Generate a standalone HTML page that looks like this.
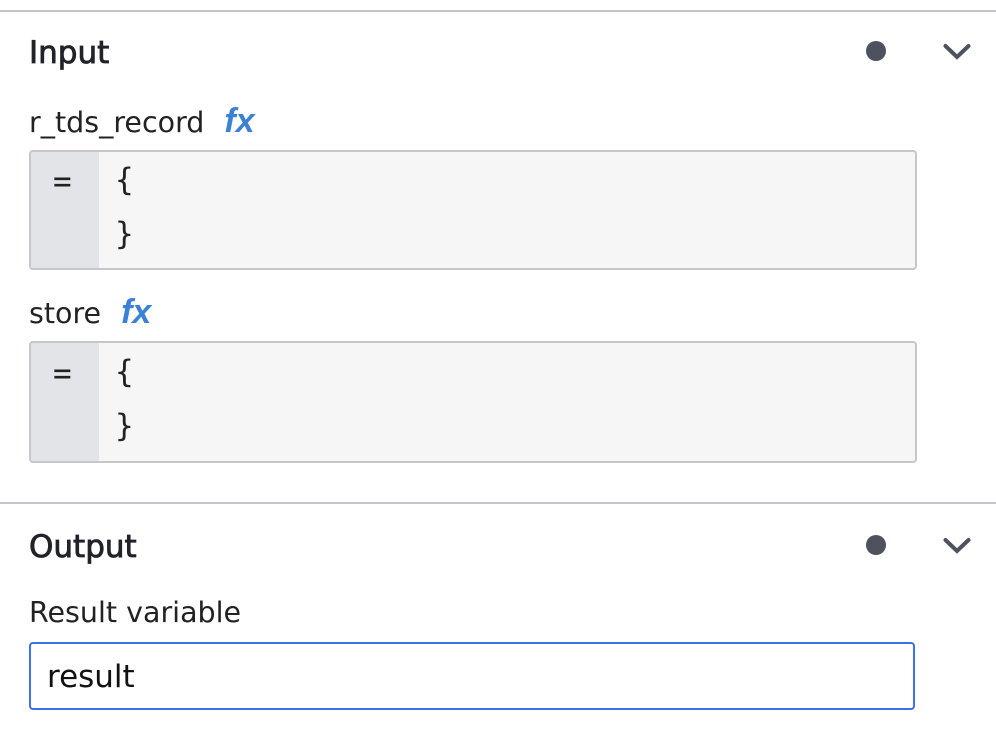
<!DOCTYPE html>
<html><head><style>
body{margin:0;width:996px;height:750px;background:#fff;position:relative;overflow:hidden;font-family:"DejaVu Sans","Liberation Sans",sans-serif;color:#21232a}
.a{position:absolute}
.hline{position:absolute;left:0;width:996px;height:2px;background:#c4c4cc}
.h{font-size:31px;font-weight:normal;left:29px;-webkit-text-stroke:0.8px #21232a}
.lbl{font-size:28.5px;left:29px;color:#222}
.fx{color:#3b82d6;font-weight:bold;font-style:italic;font-family:"Liberation Sans",sans-serif;font-size:34px;margin-left:20px}
.box{position:absolute;left:29px;width:884px;border:2px solid #c6c7cc;border-radius:4px;background:#f6f6f6;overflow:hidden}
.gut{position:absolute;left:0;top:0;bottom:0;width:68px;background:#e3e4e8}
.mono{position:absolute;font-family:"DejaVu Sans Mono","Liberation Mono",monospace;font-size:31px;color:#222}
.dot{position:absolute;left:866px;width:20px;height:20px;border-radius:50%;background:#4e525e}
.chev{position:absolute;left:943px;width:28px;height:18px}
</style></head><body>
<div class="hline" style="top:10px"></div>
<div class="a h" style="top:35px">Input</div>
<div class="dot" style="top:41px"></div>
<svg class="chev" style="top:43px" viewBox="0 0 28 18"><path d="M2.5 3 L14 14 L25.5 3" fill="none" stroke="#4e525e" stroke-width="4" stroke-linecap="round"/></svg>
<div class="a lbl" style="top:102px">r_tds_record<span class="fx">fx</span></div>
<div class="box" style="top:150px;height:116px"><div class="gut"></div>
<div class="mono" style="left:22px;top:12px">=</div>
<div class="mono" style="left:84px;top:10px">{</div>
<div class="mono" style="left:84px;top:64px">}</div></div>
<div class="a lbl" style="top:293px">store<span class="fx">fx</span></div>
<div class="box" style="top:341px;height:118px"><div class="gut"></div>
<div class="mono" style="left:22px;top:13px">=</div>
<div class="mono" style="left:84px;top:11px">{</div>
<div class="mono" style="left:84px;top:65px">}</div></div>
<div class="hline" style="top:502px"></div>
<div class="a h" style="top:529px">Output</div>
<div class="dot" style="top:535px"></div>
<svg class="chev" style="top:537px" viewBox="0 0 28 18"><path d="M2.5 3 L14 14 L25.5 3" fill="none" stroke="#4e525e" stroke-width="4" stroke-linecap="round"/></svg>
<div class="a lbl" style="top:596px">Result variable</div>
<div class="a" style="left:29px;top:642px;width:882px;height:64px;border:2px solid #3f6fe6;border-radius:4px"></div>
<div class="a" style="left:47px;top:659px;font-size:31px;color:#111">result</div>
</body></html>
